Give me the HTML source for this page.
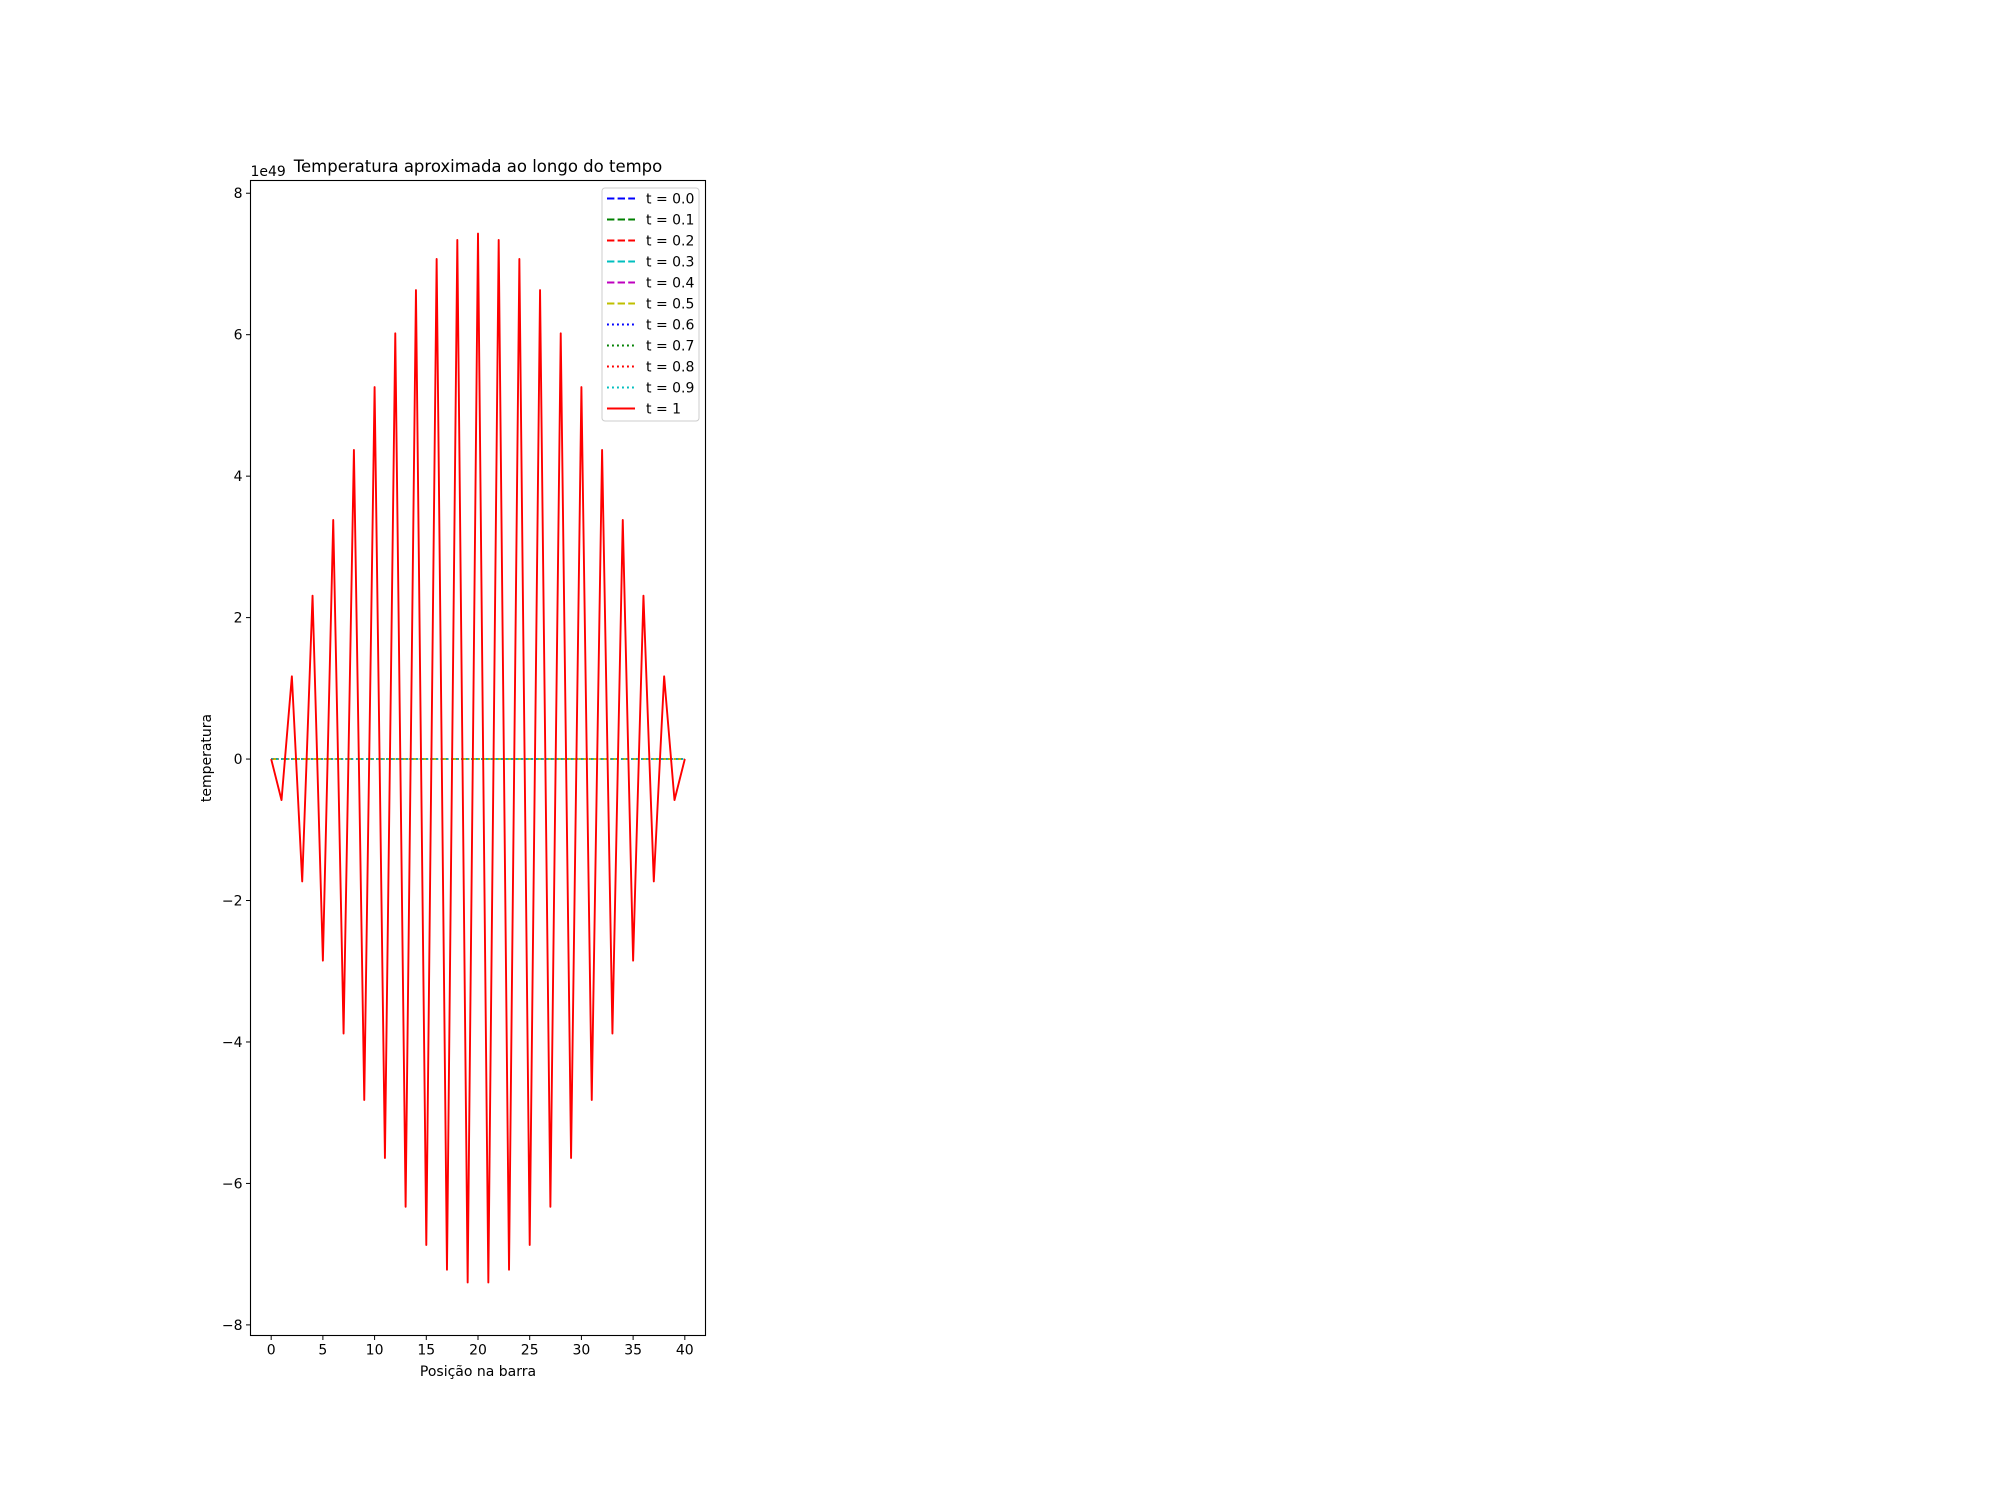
<!DOCTYPE html>
<html><head><meta charset="utf-8"><style>
html,body{margin:0;padding:0;background:#fff;}
svg{display:block;font-family:"DejaVu Sans","Liberation Sans",sans-serif;}
</style></head><body>
<svg id="chart" width="2000" height="1500" viewBox="0 0 2000 1500"></svg>
<script>
const xTicks = [0,5,10,15,20,25,30,35,40];
const yTicks = [-8,-6,-4,-2,0,2,4,6,8];
const yTickLabels = ["\u22128","\u22126","\u22124","\u22122","0","2","4","6","8"];
const seriesLabels = ["t = 0.0","t = 0.1","t = 0.2","t = 0.3","t = 0.4","t = 0.5","t = 0.6","t = 0.7","t = 0.8","t = 0.9","t = 1"];
const seriesColors = ["#0000ff","#008000","#ff0000","#00bfbf","#bf00bf","#bfbf00","#0000ff","#008000","#ff0000","#00bfbf","#ff0000"];
const seriesDash = ["dash","dash","dash","dash","dash","dash","dot","dot","dot","dot","solid"];
const flatValues = [0,0];
const flatX = [0,40];
const finalValues = [0,-0.58,1.17,-1.73,2.31,-2.85,3.38,-3.88,4.37,-4.82,5.26,-5.64,6.02,-6.33,6.63,-6.87,7.07,-7.22,7.34,-7.40,7.43,-7.40,7.34,-7.22,7.07,-6.87,6.63,-6.33,6.02,-5.64,5.26,-4.82,4.37,-3.88,3.38,-2.85,2.31,-1.73,1.17,-0.58,0];

const L=250.5,R=705.5,T=180.5,B=1335.5;
const xmin=-2,xmax=42,ymin=-8.15,ymax=8.18;
const sx=v=>L+(v-xmin)/(xmax-xmin)*(R-L);
const sy=v=>B-(v-ymin)/(ymax-ymin)*(B-T);
const svg=document.getElementById('chart');
const NS='http://www.w3.org/2000/svg';
function mk(tag,attrs,parent){const e=document.createElementNS(NS,tag);for(const k in attrs)e.setAttribute(k,attrs[k]);(parent||svg).appendChild(e);return e;}
function dashArr(d){return d==='dash'?'7.4,3.2':d==='dot'?'1.9,3.1':'none';}

const gS=mk('g',{});


for(let s=0;s<10;s++){
  const pts=flatX.map((x,i)=>sx(x)+','+sy(flatValues[i])).join(' ');
  const pl=mk('polyline',{points:pts,fill:'none',stroke:seriesColors[s],'stroke-width':1.9,'stroke-dasharray':dashArr(seriesDash[s])},gS);
  
  
}
const fpts=finalValues.map((v,i)=>sx(i)+','+sy(v)).join(' ');
const fl=mk('polyline',{points:fpts,fill:'none',stroke:'#ff0000','stroke-width':1.9,'stroke-linejoin':'round'},gS);



const fr=mk('rect',{x:L,y:T,width:R-L,height:B-T,fill:'none',stroke:'#000','stroke-width':1.1});



xTicks.forEach(v=>{
  const x=sx(v);
  const tk=mk('line',{x1:x,x2:x,y1:B,y2:B+4.5,stroke:'#000','stroke-width':1});
  
  
  const t=mk('text',{x:x,y:B+19,'font-size':14,'text-anchor':'middle',fill:'#000'});
  t.textContent=v;
  
  
});
yTicks.forEach((v,i)=>{
  const y=sy(v);
  const tk=mk('line',{x1:L-4.5,x2:L,y1:y,y2:y,stroke:'#000','stroke-width':1});
  
  
  const t=mk('text',{x:L-8,y:y+5,'font-size':14,'text-anchor':'end',fill:'#000'});
  t.textContent=yTickLabels[i];
  
  
});

const lg=mk('g',{});


const lb=mk('rect',{x:602,y:188,width:97,height:233,rx:3,fill:'#fff','fill-opacity':0.8,stroke:'#cccccc','stroke-width':1},lg);


seriesLabels.forEach((lab,i)=>{
  const y=198.5+i*21;
  const ln=mk('line',{x1:607,x2:635,y1:y,y2:y,stroke:seriesColors[i],'stroke-width':1.9,'stroke-dasharray':dashArr(seriesDash[i])},lg);
  
  
  const t=mk('text',{x:646,y:y+5,'font-size':14,fill:'#000'},lg);
  t.textContent=lab;
  
  
});

const ti=mk('text',{x:(L+R)/2,y:172,'font-size':16.5,'text-anchor':'middle',fill:'#000'});
ti.textContent='Temperatura aproximada ao longo do tempo';


const off=mk('text',{x:L,y:176,'font-size':14,fill:'#000'});
off.textContent='1e49';


const xl=mk('text',{x:(L+R)/2,y:1376,'font-size':14,'text-anchor':'middle',fill:'#000'});
xl.textContent='Posição na barra';


const yl=mk('text',{x:0,y:0,'font-size':14,'text-anchor':'middle',fill:'#000',transform:'translate(211,'+((T+B)/2)+') rotate(-90)'});
yl.textContent='temperatura';


</script>
</body></html>
